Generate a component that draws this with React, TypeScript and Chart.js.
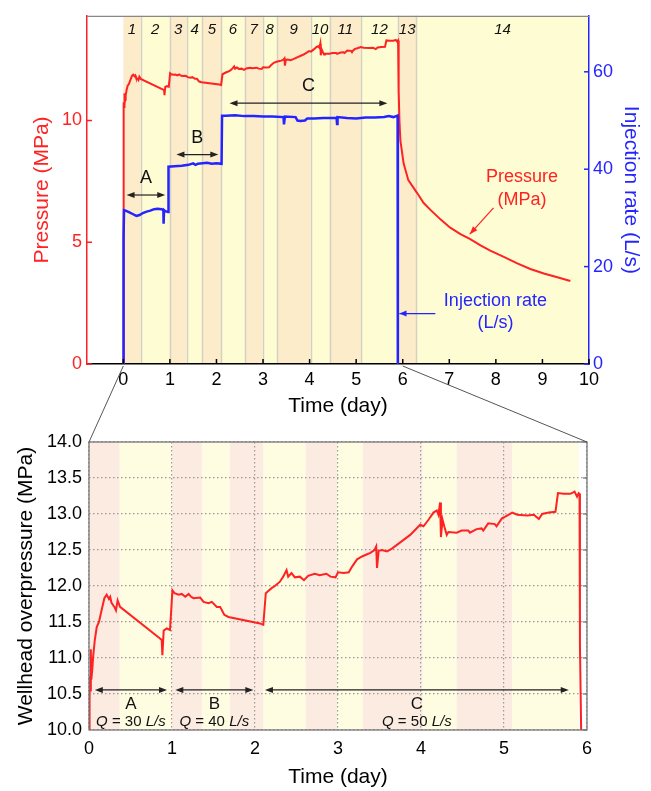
import React, { useEffect, useRef } from 'react';
import { Chart, registerables } from 'chart.js';

Chart.register(...registerables);

// ---------------- data ----------------
const pressureTime = [
  0, 0.004, 0.010, 0.016, 0.022, 0.028, 0.040, 0.050, 0.070, 0.093,
  0.120, 0.153, 0.185, 0.213, 0.240, 0.255, 0.270, 0.305, 0.325, 0.345,
  0.374, 0.844, 0.876, 0.884, 0.900, 0.937, 0.976, 1.005, 1.030, 1.080,
  1.117, 1.160, 1.200, 1.230, 1.260, 1.340, 1.380, 1.440, 1.480, 1.540,
  1.580, 1.630, 1.680, 2.060, 2.100, 2.130, 2.160, 2.200, 2.240, 2.300,
  2.340, 2.380, 2.400, 2.440, 2.480, 2.540, 2.590, 2.640, 2.720, 2.780,
  2.860, 2.910, 2.970, 3.000, 3.070, 3.130, 3.170, 3.230, 3.290, 3.330,
  3.390, 3.440, 3.460, 3.470, 3.490, 3.530, 3.590, 3.650, 3.870, 3.990,
  4.030, 4.090, 4.150, 4.190, 4.210, 4.230, 4.240, 4.260, 4.280, 4.310,
  4.330, 4.430, 4.490, 4.570, 4.590, 4.670, 4.730, 4.750, 4.810, 4.890,
  4.910, 4.975, 5.010, 5.100, 5.160, 5.280, 5.360, 5.420, 5.460, 5.540,
  5.620, 5.650, 5.720, 5.800, 5.850, 5.880, 5.900, 5.910, 5.915, 5.930,
  5.950, 6.020, 6.120, 6.310, 6.450, 6.590, 6.810, 7.020, 7.240, 7.450,
  7.670, 7.880, 8.170, 8.460, 8.740, 9.030, 9.320, 9.600,
];
const pressureValue = [
  0, 10.40, 10.75, 10.55, 11.12, 10.70, 10.85, 11.02, 11.25, 11.43,
  11.50, 11.67, 11.83, 11.88, 11.82, 11.85, 11.77, 11.71, 11.66, 11.80,
  11.71, 11.28, 11.25, 11.04, 11.38, 11.41, 11.39, 11.94, 11.90, 11.88,
  11.89, 11.85, 11.89, 11.85, 11.83, 11.84, 11.78, 11.76, 11.78, 11.71,
  11.71, 11.60, 11.57, 11.48, 11.46, 11.90, 11.93, 11.97, 12.00, 12.06,
  12.13, 12.22, 12.13, 12.18, 12.12, 12.13, 12.08, 12.14, 12.17, 12.15,
  12.17, 12.13, 12.12, 12.19, 12.18, 12.19, 12.27, 12.37, 12.41, 12.43,
  12.46, 12.50, 12.55, 12.25, 12.49, 12.50, 12.48, 12.52, 12.71, 12.85,
  12.83, 12.92, 13.02, 13.05, 12.99, 13.16, 12.68, 12.92, 12.83, 12.71,
  12.75, 12.74, 12.77, 12.77, 12.74, 12.79, 12.80, 12.77, 12.87, 12.86,
  12.83, 12.94, 12.96, 13.02, 12.99, 12.98, 12.99, 12.93, 13.00, 13.02,
  13.03, 13.29, 13.28, 13.28, 13.31, 13.24, 13.29, 13.28, 11.18, 9.97,
  9.17, 8.23, 7.55, 7.02, 6.61, 6.34, 5.94, 5.60, 5.33, 5.13,
  4.87, 4.66, 4.40, 4.13, 3.90, 3.72, 3.56, 3.41,
];
const rateTime = [
  0, 0.005, 0.015, 0.05, 0.12, 0.2, 0.28, 0.35, 0.42, 0.5,
  0.58, 0.66, 0.74, 0.82, 0.86, 0.865, 0.875, 0.9, 0.96, 0.97,
  1.1, 1.25, 1.4, 1.5, 1.55, 1.6, 1.7, 1.8, 1.9, 2.0,
  2.11, 2.12, 2.2, 2.4, 2.6, 2.8, 3.0, 3.2, 3.44, 3.45,
  3.47, 3.7, 3.74, 3.8, 3.9, 3.95, 4.1, 4.3, 4.58, 4.59,
  4.6, 4.8, 5.0, 5.2, 5.4, 5.6, 5.7, 5.8, 5.89, 5.895,
];
const rateValue = [
  0, 26, 31.6, 31.5, 31.2, 30.8, 30.4, 30.6, 31.0, 31.3,
  31.5, 31.8, 31.9, 31.8, 31.6, 28.8, 31.6, 31.4, 31.2, 40.5,
  40.6, 40.7, 40.9, 41.2, 40.9, 41.1, 41.2, 41.3, 41.1, 41.2,
  41.1, 51.0, 51.0, 51.1, 50.9, 50.9, 50.8, 50.8, 50.7, 49.2,
  50.8, 50.7, 50.0, 49.9, 50.0, 50.4, 50.4, 50.5, 50.5, 49.3,
  50.7, 50.5, 50.4, 50.6, 50.6, 50.7, 50.9, 50.7, 51.0, 0,
];

const stageBounds = [0, 0.37, 1.0, 1.36, 1.70, 2.10, 2.61, 2.99, 3.30, 4.02, 4.43, 5.10, 5.90, 6.29, 10];
const stageLabels = ['1', '2', '3', '4', '5', '6', '7', '8', '9', '10', '11', '12', '13', '14'];

const topTimeTicks = [0, 1, 2, 3, 4, 5, 6, 7, 8, 9, 10];
const pressureTicks = [0, 5, 10];
const rateTicks = [0, 20, 40, 60];
const zoomTimeTicks = [0, 1, 2, 3, 4, 5, 6];
const zoomPressureTicks = [10, 10.5, 11, 11.5, 12, 12.5, 13, 13.5, 14];

const phaseNames = ['A', 'B', 'C'];
const phaseRates = ['30', '40', '50'];
const phaseStartTop = [0.07, 1.14, 2.28];
const phaseEndTop = [0.90, 2.04, 5.67];
const phaseLevelTop = [6.94, 8.6, 10.71];
const phaseStartZoom = [0.07, 1.04, 2.12];
const phaseEndZoom = [0.94, 1.98, 5.78];
const phaseLevelZoom = 10.556;

// ---------------- style ----------------
const FAM = '"Liberation Sans", Arial, Helvetica, sans-serif';
const RED = '#ff2222';
const BLUE = '#2424ff';
const ORANGE = '#fcecca';
const YELLOW = '#fefcd2';
const PINK = '#fbebe1';
const PALE = '#fefde1';
const font = (size: number, style = '') => `${style} ${size}px ${FAM}`.trim();

function head(ctx: CanvasRenderingContext2D, xt: number, yt: number, xf: number, yf: number, len = 8, hw = 3) {
  const a = Math.atan2(yt - yf, xt - xf);
  ctx.beginPath();
  ctx.moveTo(xt, yt);
  ctx.lineTo(xt - len * Math.cos(a) + hw * Math.sin(a), yt - len * Math.sin(a) - hw * Math.cos(a));
  ctx.lineTo(xt - len * Math.cos(a) - hw * Math.sin(a), yt - len * Math.sin(a) + hw * Math.cos(a));
  ctx.closePath();
  ctx.fill();
}

function doubleArrow(ctx: CanvasRenderingContext2D, x0: number, x1: number, y: number, color: string) {
  ctx.strokeStyle = color;
  ctx.fillStyle = color;
  ctx.lineWidth = 1.2;
  ctx.beginPath();
  ctx.moveTo(x0 + 4, y);
  ctx.lineTo(x1 - 4, y);
  ctx.stroke();
  head(ctx, x0, y, x1, y, 8, 3);
  head(ctx, x1, y, x0, y, 8, 3);
}

function drawQ(ctx: CanvasRenderingContext2D, cx: number, cy: number, rate: string) {
  const parts: [string, string][] = [['Q', 'italic'], [' = ' + rate + ' ', ''], ['L/s', 'italic']];
  let total = 0;
  for (const [t, s] of parts) {
    ctx.font = font(15, s);
    total += ctx.measureText(t).width;
  }
  let x = cx - total / 2;
  ctx.textAlign = 'left';
  ctx.textBaseline = 'middle';
  ctx.fillStyle = '#111';
  for (const [t, s] of parts) {
    ctx.font = font(15, s);
    ctx.fillText(t, x, cy);
    x += ctx.measureText(t).width;
  }
}

const topPlugin = {
  id: 'topDecor',
  beforeDraw(chart: any) {
    const { ctx, chartArea: a, scales } = chart;
    const x = scales.x;
    ctx.save();
    for (let i = 0; i < stageBounds.length - 1; i++) {
      const x0 = x.getPixelForValue(stageBounds[i]);
      const x1 = x.getPixelForValue(stageBounds[i + 1]);
      ctx.fillStyle = i % 2 === 0 ? ORANGE : YELLOW;
      ctx.fillRect(x0, a.top, x1 - x0, a.bottom - a.top);
    }
    ctx.strokeStyle = '#d6d0c2';
    ctx.lineWidth = 1.5;
    for (let i = 1; i < stageBounds.length - 1; i++) {
      const xp = Math.round(x.getPixelForValue(stageBounds[i])) + 0.5;
      ctx.beginPath();
      ctx.moveTo(xp, a.top);
      ctx.lineTo(xp, a.bottom);
      ctx.stroke();
    }
    ctx.font = font(15, 'italic');
    ctx.fillStyle = '#111';
    ctx.textAlign = 'center';
    ctx.textBaseline = 'middle';
    for (let i = 0; i < stageLabels.length; i++) {
      const xm = x.getPixelForValue((stageBounds[i] + stageBounds[i + 1]) / 2);
      ctx.fillText(stageLabels[i], xm, a.top + 14);
    }
    ctx.restore();
  },
  afterDraw(chart: any) {
    const { ctx, chartArea: a, scales } = chart;
    const { x, y, y1 } = scales;
    ctx.save();
    // top frame line
    ctx.strokeStyle = '#888';
    ctx.lineWidth = 1.2;
    ctx.beginPath();
    ctx.moveTo(a.left, a.top + 0.5);
    ctx.lineTo(a.right, a.top + 0.5);
    ctx.stroke();
    // inward ticks
    ctx.lineWidth = 1.5;
    ctx.strokeStyle = RED;
    for (const v of pressureTicks) {
      const p = y.getPixelForValue(v);
      ctx.beginPath(); ctx.moveTo(a.left, p); ctx.lineTo(a.left + 5, p); ctx.stroke();
    }
    ctx.strokeStyle = BLUE;
    for (const v of rateTicks) {
      const p = y1.getPixelForValue(v);
      ctx.beginPath(); ctx.moveTo(a.right, p); ctx.lineTo(a.right - 5, p); ctx.stroke();
    }
    ctx.strokeStyle = '#000';
    for (const v of topTimeTicks) {
      const p = x.getPixelForValue(v);
      ctx.beginPath(); ctx.moveTo(p, a.bottom); ctx.lineTo(p, a.bottom - 5); ctx.stroke();
    }
    // phase arrows
    for (let i = 0; i < phaseNames.length; i++) {
      const x0 = x.getPixelForValue(phaseStartTop[i]);
      const x1 = x.getPixelForValue(phaseEndTop[i]);
      const yy = y.getPixelForValue(phaseLevelTop[i]);
      doubleArrow(ctx, x0, x1, yy, '#222');
      ctx.font = font(18);
      ctx.fillStyle = '#111';
      ctx.textAlign = 'center';
      ctx.textBaseline = 'middle';
      ctx.fillText(phaseNames[i], (x0 + x1) / 2, yy - 17);
    }
    // pressure annotation
    ctx.font = font(18);
    ctx.fillStyle = RED;
    ctx.textAlign = 'center';
    ctx.textBaseline = 'middle';
    ctx.fillText('Pressure', x.getPixelForValue(8.56), y.getPixelForValue(7.66));
    ctx.fillText('(MPa)', x.getPixelForValue(8.56), y.getPixelForValue(6.75));
    ctx.strokeStyle = RED;
    ctx.lineWidth = 1.2;
    {
      const xs = x.getPixelForValue(7.95), ys = y.getPixelForValue(6.41);
      const xe = x.getPixelForValue(7.44), ye = y.getPixelForValue(5.33);
      ctx.beginPath(); ctx.moveTo(xs, ys); ctx.lineTo(xe, ye); ctx.stroke();
      head(ctx, xe, ye, xs, ys, 8, 3);
    }
    // injection annotation
    ctx.fillStyle = BLUE;
    ctx.fillText('Injection rate', x.getPixelForValue(7.99), y1.getPixelForValue(12.9));
    ctx.fillText('(L/s)', x.getPixelForValue(7.99), y1.getPixelForValue(8.34));
    ctx.strokeStyle = BLUE;
    {
      const xs = x.getPixelForValue(6.70), xe = x.getPixelForValue(5.93);
      const yy = y1.getPixelForValue(10.36);
      ctx.beginPath(); ctx.moveTo(xs, yy); ctx.lineTo(xe, yy); ctx.stroke();
      head(ctx, xe, yy, xs, yy, 7, 3);
    }
    ctx.restore();
  },
};

function makeZoomPlugin(getTop: () => any) {
  return {
    id: 'zoomDecor',
    beforeDraw(chart: any) {
      const { ctx, chartArea: a, scales } = chart;
      const x = scales.x;
      ctx.save();
      for (let i = 0; i < 12; i++) {
        const x0 = x.getPixelForValue(stageBounds[i]);
        const x1 = x.getPixelForValue(stageBounds[i + 1]);
        ctx.fillStyle = i % 2 === 0 ? PINK : PALE;
        ctx.fillRect(x0, a.top, x1 - x0, a.bottom - a.top);
      }
      ctx.restore();
    },
    afterDraw(chart: any) {
      const { ctx, chartArea: a, scales } = chart;
      const { x, y } = scales;
      ctx.save();
      // frame
      ctx.strokeStyle = '#777';
      ctx.lineWidth = 1.3;
      ctx.strokeRect(a.left, a.top, a.right - a.left, a.bottom - a.top);
      for (const v of zoomPressureTicks) {
        const p = y.getPixelForValue(v);
        ctx.beginPath(); ctx.moveTo(a.right, p); ctx.lineTo(a.right - 4, p); ctx.stroke();
      }
      // phase arrows and labels
      const yy = y.getPixelForValue(phaseLevelZoom);
      for (let i = 0; i < phaseNames.length; i++) {
        const x0 = x.getPixelForValue(phaseStartZoom[i]);
        const x1 = x.getPixelForValue(phaseEndZoom[i]);
        doubleArrow(ctx, x0, x1, yy, '#222');
        const xm = (x0 + x1) / 2;
        ctx.font = font(17);
        ctx.fillStyle = '#111';
        ctx.textAlign = 'center';
        ctx.textBaseline = 'middle';
        ctx.fillText(phaseNames[i], xm, yy + 14);
        drawQ(ctx, xm, yy + 32, phaseRates[i]);
      }
      // connector lines to the upper chart
      const top = getTop();
      if (top) {
        const tx = top.scales.x;
        const tb = top.chartArea.bottom + 2;
        ctx.strokeStyle = '#555';
        ctx.lineWidth = 1;
        ctx.beginPath();
        ctx.moveTo(tx.getPixelForValue(0), tb);
        ctx.lineTo(a.left, a.top);
        ctx.moveTo(tx.getPixelForValue(6), tb);
        ctx.lineTo(a.right, a.top);
        ctx.stroke();
      }
      ctx.restore();
    },
  };
}

const pressurePoints = () => pressureTime.map((t, i) => ({ x: t, y: pressureValue[i] }));
const ratePoints = () => rateTime.map((t, i) => ({ x: t, y: rateValue[i] }));

export default function App() {
  const topRef = useRef<HTMLCanvasElement>(null);
  const zoomRef = useRef<HTMLCanvasElement>(null);

  useEffect(() => {
    let topChart: any = null;
    topChart = new Chart(topRef.current as HTMLCanvasElement, {
      type: 'line',
      data: {
        datasets: [
          {
            label: 'Pressure',
            data: pressurePoints(),
            yAxisID: 'y',
            borderColor: RED,
            borderWidth: 2,
            pointRadius: 0,
            tension: 0,
            order: 2,
          },
          {
            label: 'Injection rate',
            data: ratePoints(),
            yAxisID: 'y1',
            borderColor: BLUE,
            borderWidth: 2.5,
            pointRadius: 0,
            tension: 0,
            order: 1,
          },
        ],
      },
      options: {
        responsive: false,
        animation: false,
        events: [],
        layout: { padding: { top: 9, bottom: 371, left: 0, right: 0 } },
        plugins: { legend: { display: false }, tooltip: { enabled: false } },
        scales: {
          x: {
            type: 'linear',
            min: -0.78,
            max: 10,
            afterBuildTicks: (s: any) => { s.ticks = topTimeTicks.map((v) => ({ value: v })); },
            afterFit: (s: any) => { s.height = 56; },
            grid: { display: false, drawTicks: false },
            border: { display: true, color: '#000', width: 1.5 },
            ticks: { color: '#000', font: { size: 18, family: FAM }, padding: 5, maxRotation: 0, autoSkip: false },
            title: { display: true, text: 'Time (day)', color: '#000', font: { size: 21, family: FAM }, padding: { top: 0, bottom: 1 } },
          },
          y: {
            type: 'linear',
            position: 'left',
            min: 0,
            max: 14.3,
            afterBuildTicks: (s: any) => { s.ticks = pressureTicks.map((v) => ({ value: v })); },
            afterFit: (s: any) => { s.width = 87; },
            grid: { display: false, drawTicks: false },
            border: { display: true, color: RED, width: 1.5 },
            ticks: { color: RED, font: { size: 18, family: FAM }, padding: 5 },
            title: { display: true, text: 'Pressure (MPa)', color: RED, font: { size: 21, family: FAM }, padding: { top: 30, bottom: 0 } },
          },
          y1: {
            type: 'linear',
            position: 'right',
            min: 0,
            max: 71.5,
            afterBuildTicks: (s: any) => { s.ticks = rateTicks.map((v) => ({ value: v })); },
            afterFit: (s: any) => { s.width = 62; },
            grid: { display: false, drawTicks: false },
            border: { display: true, color: BLUE, width: 1.5 },
            ticks: { color: BLUE, font: { size: 18, family: FAM }, padding: 4 },
            title: { display: true, text: 'Injection rate (L/s)', color: BLUE, font: { size: 21, family: FAM }, padding: { top: 8, bottom: 0 } },
          },
        },
      } as any,
      plugins: [topPlugin],
    });

    const zoomChart = new Chart(zoomRef.current as HTMLCanvasElement, {
      type: 'line',
      data: {
        datasets: [
          {
            label: 'Wellhead overpressure',
            data: pressurePoints(),
            borderColor: RED,
            borderWidth: 2,
            pointRadius: 0,
            tension: 0,
          },
        ],
      },
      options: {
        responsive: false,
        animation: false,
        events: [],
        layout: { padding: { top: 442, bottom: 0, left: 0, right: 64 } },
        plugins: { legend: { display: false }, tooltip: { enabled: false } },
        scales: {
          x: {
            type: 'linear',
            min: 0,
            max: 6,
            afterBuildTicks: (s: any) => { s.ticks = zoomTimeTicks.map((v) => ({ value: v })); },
            afterFit: (s: any) => { s.height = 61; },
            grid: { display: true, drawTicks: false, color: '#9a9a9a', lineWidth: 1.2 },
            border: { display: false, dash: [1.5, 2.5] },
            ticks: { color: '#000', font: { size: 18, family: FAM }, padding: 8, maxRotation: 0, autoSkip: false },
            title: { display: true, text: 'Time (day)', color: '#000', font: { size: 21, family: FAM }, padding: { top: 0, bottom: 1 } },
          },
          y: {
            type: 'linear',
            position: 'left',
            min: 10,
            max: 14,
            afterBuildTicks: (s: any) => { s.ticks = zoomPressureTicks.map((v) => ({ value: v })); },
            afterFit: (s: any) => { s.width = 89; },
            grid: { display: true, drawTicks: false, color: '#9a9a9a', lineWidth: 1.2 },
            border: { display: false, dash: [1.5, 2.5] },
            ticks: { color: '#000', font: { size: 18, family: FAM }, padding: 7, callback: (v: any) => Number(v).toFixed(1) },
            title: { display: true, text: 'Wellhead overpressure (MPa)', color: '#000', font: { size: 21, family: FAM }, padding: { top: 14, bottom: 0 } },
          },
        },
      } as any,
      plugins: [makeZoomPlugin(() => topChart)],
    });

    return () => {
      zoomChart.destroy();
      topChart.destroy();
    };
  }, []);

  const cs: React.CSSProperties = { position: 'absolute', left: 0, top: 0, width: 651, height: 791 };
  return (
    <div style={{ position: 'absolute', left: 0, top: 0, width: 651, height: 791, background: '#fff', overflow: 'hidden' }}>
      <canvas ref={topRef} width={651} height={791} style={cs} />
      <canvas ref={zoomRef} width={651} height={791} style={cs} />
    </div>
  );
}
